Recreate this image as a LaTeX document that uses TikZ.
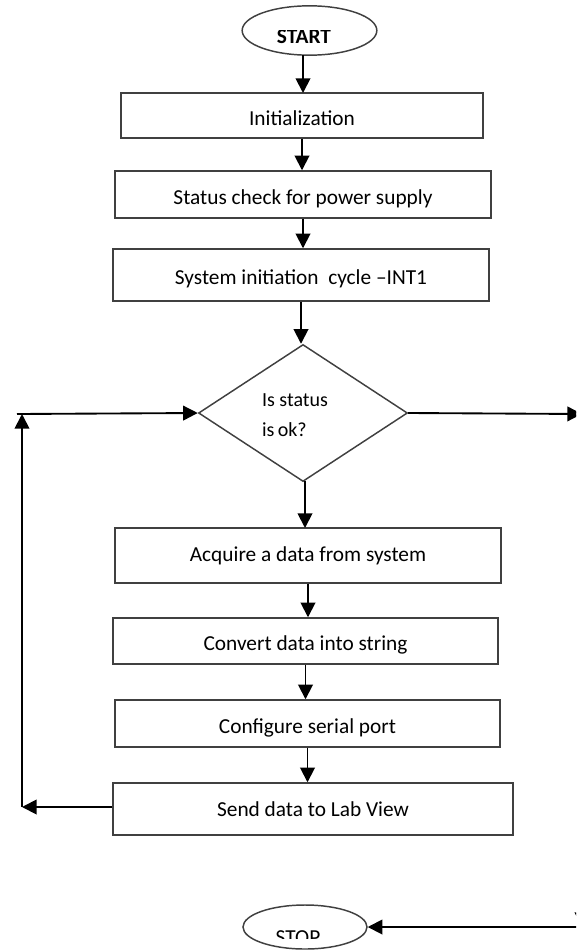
\documentclass[tikz,border=0pt]{standalone}
\usepackage{fontspec}
\setmainfont{Carlito}
\usetikzlibrary{shapes.geometric,arrows.meta}
\begin{document}
\begin{tikzpicture}[x=0.75pt,y=-0.75pt,
  box/.style={draw=black!75,line width=1.1pt,inner sep=0pt,font=\fontsize{16}{18}\selectfont},
  low/.style={text height=14.5pt,text depth=0pt},
  term/.style={ellipse,draw=black!75,line width=1.1pt,inner sep=0pt},
  decision/.style={diamond,draw=black!75,line width=1.1pt,inner sep=0pt},
  conn/.style={line width=1.4pt,-{Triangle[length=11pt,width=11pt]}},
  plain/.style={line width=1.4pt}]
\useasboundingbox (0,0) rectangle (576,950);
\clip (0,0) rectangle (576,950);

% terminals
\node[term,minimum width=101pt,minimum height=37pt] (start) at (309.5,30.5) {};
\begin{scope}
  \clip (200,30) rectangle (420,60);
  \node[font=\fontsize{16}{18}\selectfont\bfseries] (starttxt) at (304,37) {START};
\end{scope}
\node[term,minimum width=93pt,minimum height=33pt] (stop) at (305,927) {};
\begin{scope}
  \clip (200,900) rectangle (420,938);
  \node[font=\fontsize{16}{18}\selectfont] (stoptxt) at (298,938) {STOP};
\end{scope}

% process boxes
\node[box,low,minimum width=271.5pt,minimum height=33.75pt] (b1) at (302,115.5) {Initialization};
\node[box,low,minimum width=282pt,minimum height=35.25pt] (b2) at (303,194.5) {Status check for power supply};
\node[box,low,minimum width=282pt,minimum height=39pt] (b3) at (301,275) {System initiation\ \ cycle --INT1};
\node[decision,minimum width=156.75pt,minimum height=102.75pt] (dia) at (303,413) {};
\node[font=\fontsize{15}{17}\selectfont,align=left] (diatxt) at (295,415) {Is status\\[6pt]is\,ok?};
\node[box,minimum width=289.5pt,minimum height=41.25pt] (b4) at (308,555.5) {Acquire a data from system};
\node[box,low,minimum width=288.75pt,minimum height=34.5pt] (b5) at (305.5,641) {Convert data into string};
\node[box,low,minimum width=288.75pt,minimum height=35.25pt] (b6) at (307.5,723.5) {Configure serial port};
\node[box,minimum width=300pt,minimum height=39pt] (b7) at (313,809) {Send data to Lab View};

% main flow
\draw[conn] (303,55) -- (303,93);
\draw[conn] (b1.south) -- (b1.south |- b2.north);
\draw[conn] (b2.south) -- (b2.south |- b3.north);
\draw[conn] (b3.south) -- (b3.south |- dia.north);
\draw[conn] (305,481) -- (305,528);
\draw[conn] (b4.south) -- (b4.south |- b5.north);
\draw[conn] (b5.south) -- (b5.south |- b6.north);
\draw[conn] (b6.south) -- (b6.south |- b7.north);

% loop back to the decision
\coordinate (lb) at (22,807);
\coordinate (lt) at (22,414);
\coordinate (ls) at (17,414);
\draw[conn] (b7.west |- lb) -- (lb);
\draw[conn] (lb) -- (lt);
\draw[conn] (ls) -- (dia.west);

% exit to stop
\coordinate (rx) at (582,414);
\coordinate (rd) at (582,927);
\coordinate (rs) at (585,927);
\draw[conn] (dia.east) -- (rx);
\draw[conn] (582,430) -- (rd);
\draw[conn] (rs) -- (stop.east);
\end{tikzpicture}
\end{document}
